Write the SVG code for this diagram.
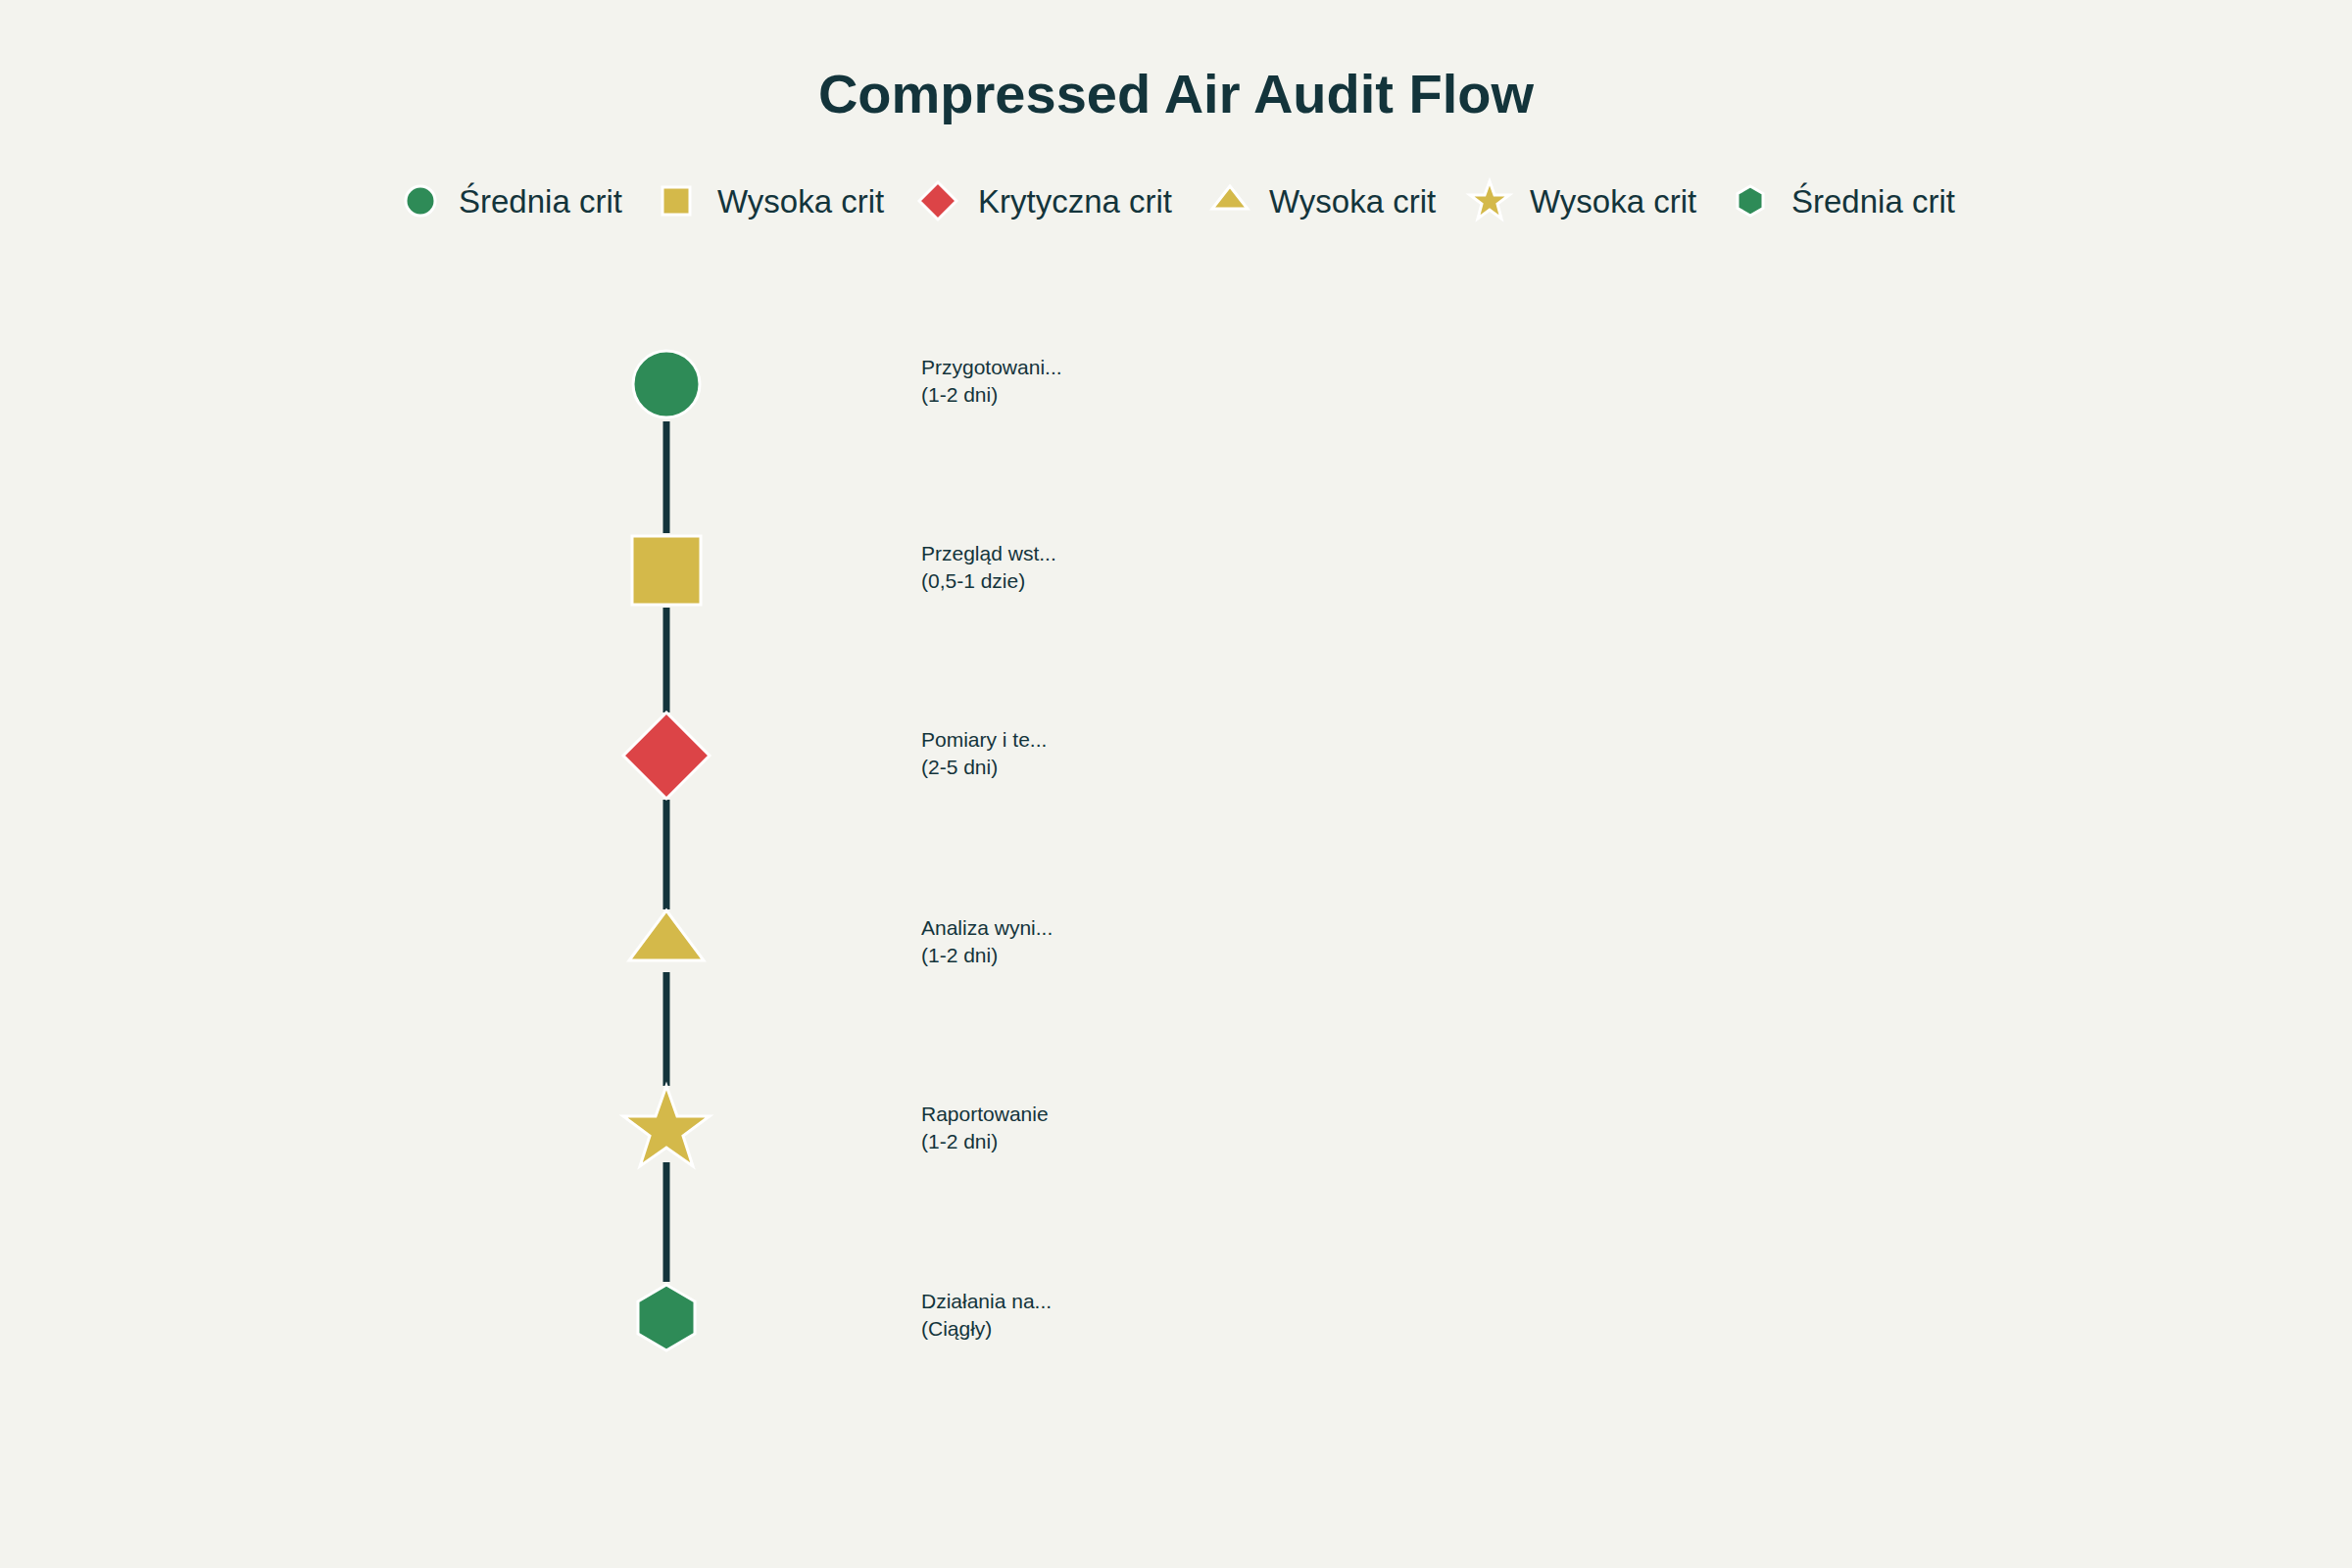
<svg xmlns="http://www.w3.org/2000/svg" width="2400" height="1600" viewBox="0 0 2400 1600">
<style>
.t{font-family:"Liberation Sans",Arial,sans-serif;fill:#13343b}
.lg{font-size:33px}
.lb{font-size:21px}
.g{fill:#2e8b57;stroke:#fff;stroke-width:3}
.y{fill:#d4b94a;stroke:#fff;stroke-width:3}
.r{fill:#dc4447;stroke:#fff;stroke-width:3}
.c{stroke:#13343b;stroke-width:7}
</style>
<rect width="2400" height="1600" fill="#f3f3ee"/>
<text class="t" x="1200" y="115" font-size="56" font-weight="bold" text-anchor="middle">Compressed Air Audit Flow</text>
<g id="legend">
<circle class="g" cx="429" cy="205" r="15"/><text class="t lg" x="468" y="217">Średnia crit</text>
<rect class="y" x="676" y="191" width="28" height="28"/><text class="t lg" x="732" y="217">Wysoka crit</text>
<polygon class="r" points="957,186 976,205 957,224 938,205"/><text class="t lg" x="998" y="217">Krytyczna crit</text>
<polygon class="y" points="1255,190 1273,213 1237,213"/><text class="t lg" x="1295" y="217">Wysoka crit</text>
<polygon class="y" points="1520,185 1525,199 1540,199 1528,208 1532,223 1520,214 1508,223 1512,208 1500,199 1515,199"/><text class="t lg" x="1561" y="217">Wysoka crit</text>
<polygon class="g" points="1786,190 1799,197.5 1799,212.5 1786,220 1773,212.5 1773,197.5"/><text class="t lg" x="1828" y="217">Średnia crit</text>
</g>
<g id="connectors">
<line class="c" x1="680" y1="430" x2="680" y2="544"/>
<line class="c" x1="680" y1="620" x2="680" y2="727"/>
<line class="c" x1="680" y1="816" x2="680" y2="928"/>
<line class="c" x1="680" y1="992" x2="680" y2="1108"/>
<line class="c" x1="680" y1="1186" x2="680" y2="1308"/>
</g>
<g id="n1"><circle class="g" cx="680" cy="392" r="34"/><text class="t lb" x="940" y="382">Przygotowani...</text><text class="t lb" x="940" y="410">(1-2 dni)</text></g>
<g id="n2"><rect class="y" x="645" y="547" width="70" height="70"/><text class="t lb" x="940" y="572">Przegląd wst...</text><text class="t lb" x="940" y="600">(0,5-1 dzie)</text></g>
<g id="n3"><polygon class="r" points="680,727 724,771 680,815 636,771"/><text class="t lb" x="940" y="762">Pomiary i te...</text><text class="t lb" x="940" y="790">(2-5 dni)</text></g>
<g id="n4"><polygon class="y" points="680,929 718,980 642,980"/><text class="t lb" x="940" y="954">Analiza wyni...</text><text class="t lb" x="940" y="982">(1-2 dni)</text></g>
<g id="n5"><polygon class="y" points="680,1108 691,1139 724,1139 697,1159 707,1190 680,1171 653,1190 663,1159 636,1139 669,1139"/><text class="t lb" x="940" y="1144">Raportowanie</text><text class="t lb" x="940" y="1172">(1-2 dni)</text></g>
<g id="n6"><polygon class="g" points="680,1311 709,1328 709,1361 680,1378 651,1361 651,1328"/><text class="t lb" x="940" y="1335">Działania na...</text><text class="t lb" x="940" y="1363">(Ciągły)</text></g>
</svg>
